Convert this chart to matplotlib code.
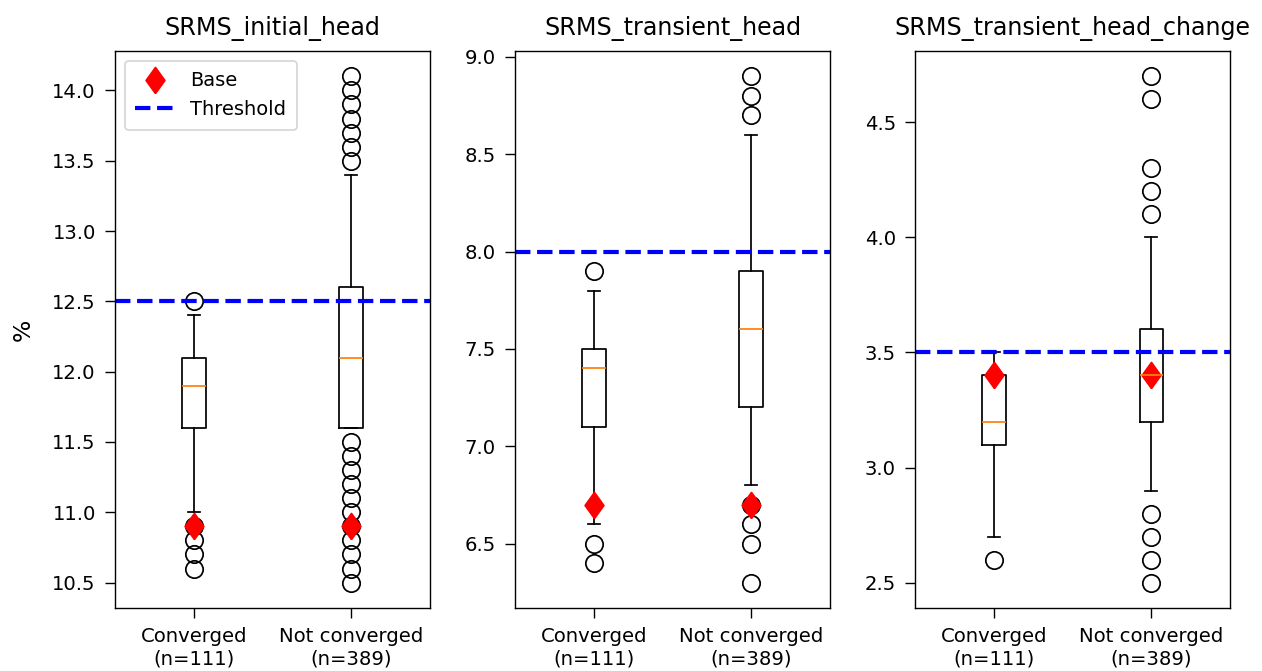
import matplotlib
matplotlib.use("Agg")
import matplotlib.pyplot as plt

# ---- data ----
titles = ["SRMS_initial_head", "SRMS_transient_head", "SRMS_transient_head_change"]
group_labels = ["Converged\n(n=111)", "Not converged\n(n=389)"]
thresholds = [12.5, 8.0, 3.5]
base_values = [10.9, 6.7, 3.4]

# per panel: [converged, not converged]
q1 = [[11.6, 11.6], [7.1, 7.2], [3.1, 3.2]]
medians = [[11.9, 12.1], [7.4, 7.6], [3.2, 3.4]]
q3 = [[12.1, 12.6], [7.5, 7.9], [3.4, 3.6]]
whisker_lo = [[11.0, 11.6], [6.6, 6.8], [2.7, 2.9]]
whisker_hi = [[12.4, 13.4], [7.8, 8.6], [3.5, 4.0]]
fliers = [
    [[12.5, 10.9, 10.8, 10.7, 10.6],
     [13.5, 13.6, 13.7, 13.8, 13.9, 14.0, 14.1,
      11.5, 11.4, 11.3, 11.2, 11.1, 11.0, 10.9, 10.8, 10.7, 10.6, 10.5]],
    [[7.9, 6.5, 6.4],
     [8.7, 8.8, 8.9, 6.7, 6.6, 6.5, 6.3]],
    [[2.6],
     [4.1, 4.2, 4.3, 4.6, 4.7, 2.8, 2.7, 2.6, 2.5]],
]

# slightly wider diamond than the built-in 'd'
DIAMOND = [(0, -1), (0.72, 0), (0, 1), (-0.72, 0), (0, -1)]

plt.rcParams['xtick.labelsize'] = 11.3
plt.rcParams['ytick.labelsize'] = 11.3
plt.rcParams['xtick.major.size'] = 5.5
plt.rcParams['ytick.major.size'] = 5.5
plt.rcParams['xtick.major.pad'] = 5.5
plt.rcParams['ytick.major.pad'] = 5.5

DPI = 125
fig, axes = plt.subplots(1, 3, figsize=(1262 / DPI, 671 / DPI), dpi=DPI)
fig.subplots_adjust(left=0.0911, right=0.9747, top=0.924, bottom=0.094, wspace=0.27)

for i, ax in enumerate(axes):
    stats = []
    for g in range(2):
        stats.append(dict(med=medians[i][g], q1=q1[i][g], q3=q3[i][g],
                          whislo=whisker_lo[i][g], whishi=whisker_hi[i][g],
                          fliers=fliers[i][g], label=group_labels[g]))

    ax.bxp(stats, flierprops=dict(marker='o', markersize=10, markerfacecolor='none',
                                  markeredgecolor='black'))
    # base drawn after the boxes: above fliers, below the medians (zorder 2.1)
    base_line, = ax.plot([1, 2], [base_values[i]] * 2, color='red', marker=DIAMOND,
                         markersize=15, linestyle='none', label='Base')
    thr_line = ax.axhline(thresholds[i], color='b', linestyle='--', lw=2.4, label='Threshold')

    ax.set_title(titles[i], fontsize=13.7, pad=9)
    if i == 0:
        ax.set_ylabel('%', fontsize=13.5, labelpad=10)
        ax.legend(handles=[base_line, thr_line], loc='upper left', fontsize=11.2,
                  borderpad=0.55)

fig.savefig('out.png', dpi=DPI)
